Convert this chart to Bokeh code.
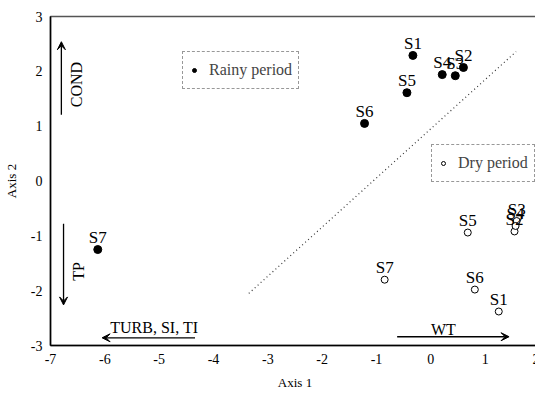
import math
from bokeh.plotting import figure
from bokeh.models import (Range1d, FixedTicker, ColumnDataSource, Arrow, VeeHead,
                          Legend, LegendItem, Label)
from bokeh.core.properties import value
from bokeh.embed import file_html
from bokeh.resources import INLINE

# ---- data ----
rainy_names = ["S1", "S2", "S3", "S4", "S5", "S6", "S7"]
rainy_x = [-0.33, 0.60, 0.45, 0.21, -0.44, -1.22, -6.13]
rainy_y = [2.29, 2.07, 1.92, 1.94, 1.61, 1.05, -1.25]

dry_names = ["S1", "S2", "S3", "S4", "S5", "S6", "S7"]
dry_x = [1.25, 1.54, 1.58, 1.56, 0.68, 0.81, -0.85]
dry_y = [-2.38, -0.92, -0.73, -0.82, -0.94, -1.98, -1.80]

x_ticks = [-7, -6, -5, -4, -3, -2, -1, 0, 1, 2]
y_ticks = [-3, -2, -1, 0, 1, 2, 3]

# separating line (dotted)
sep_x = [-3.35, 1.57]
sep_y = [-2.05, 2.36]

# variable vectors: name, start x, start y, end x, end y
vec_names = ["COND", "TP", "TURB, SI, TI", "WT"]
vec_x0 = [-6.80, -6.76, -4.34, -0.62]
vec_y0 = [1.21, -0.78, -2.86, -2.84]
vec_x1 = [-6.80, -6.76, -6.05, 1.44]
vec_y1 = [2.54, -2.26, -2.86, -2.84]
vec_lab_x = [-6.52, -6.48, -5.90, 0.23]
vec_lab_y = [1.76, -1.65, -2.68, -2.71]
vec_lab_angle = [math.pi / 2, math.pi / 2, 0.0, 0.0]
vec_lab_align = ["center", "center", "left", "center"]

SERIF = "Liberation Serif"

p = figure(frame_width=489, frame_height=329, output_backend="svg", toolbar_location=None,
           x_range=Range1d(-7, 2), y_range=Range1d(-3, 3),
           min_border_left=46, min_border_right=0, min_border_top=16,
           min_border_bottom=30)
p.background_fill_color = "white"
p.border_fill_color = "white"
p.outline_line_color = "#555555"
p.outline_line_width = 1.5
p.xgrid.visible = False
p.ygrid.visible = False

for ax, ticks, title in ((p.xaxis[0], x_ticks, "Axis 1"), (p.yaxis[0], y_ticks, "Axis 2")):
    ax.ticker = FixedTicker(ticks=ticks)
    ax.major_label_overrides = {t: str(t) for t in ticks}
    ax.axis_label = title
    ax.axis_label_text_font = SERIF
    ax.axis_label_text_font_size = "13px"
    ax.axis_label_text_font_style = "normal"
    ax.axis_label_text_color = "black"
    ax.major_label_text_font = SERIF
    ax.major_label_text_font_size = "14px"
    ax.major_label_text_color = "black"
    ax.major_tick_line_color = None
    ax.minor_tick_line_color = None
    ax.major_tick_out = 0
    ax.major_tick_in = 0
    ax.minor_tick_out = 0
    ax.minor_tick_in = 0
    ax.axis_line_color = "black"
    ax.axis_line_width = 1.5
p.xaxis[0].major_label_standoff = 8
p.xaxis[0].axis_label_standoff = 8
p.yaxis[0].major_label_standoff = 8
p.yaxis[0].axis_label_standoff = 9

# separating dotted line
p.line(sep_x, sep_y, line_color="#333333", line_width=1.2, line_dash="1 3")

# points
rs = ColumnDataSource(dict(x=rainy_x, y=rainy_y, n=rainy_names))
ds = ColumnDataSource(dict(x=dry_x, y=dry_y, n=dry_names))
r_rainy = p.scatter("x", "y", source=rs, size=8, marker="circle",
                    fill_color="black", line_color="black")
r_dry = p.scatter("x", "y", source=ds, size=7, marker="circle",
                  fill_color="white", line_color="black", line_width=1)
for src in (rs, ds):
    p.text("x", "y", text="n", source=src, text_font=value(SERIF),
           text_font_size="17px", text_align="center",
           text_baseline="alphabetic", y_offset=-12, text_color="black")

# variable vectors
for x0, y0, x1, y1 in zip(vec_x0, vec_y0, vec_x1, vec_y1):
    p.add_layout(Arrow(x_start=x0, y_start=y0, x_end=x1, y_end=y1,
                       line_color="black", line_width=1.3,
                       end=VeeHead(size=8, fill_color="black", line_color="black")))
for name, lx, ly, ang, al in zip(vec_names, vec_lab_x, vec_lab_y, vec_lab_angle, vec_lab_align):
    p.add_layout(Label(x=lx, y=ly, text=name, angle=ang, text_align=al,
                       text_baseline="middle", text_font=SERIF,
                       text_font_size="16px", text_color="black"))

# legends (two boxed, dotted borders)
def make_legend(label, rend, loc):
    lg = Legend(items=[LegendItem(label=label, renderers=[rend])], location=loc,
                label_text_font=SERIF, label_text_font_size="16px",
                glyph_width=10, glyph_height=24, label_height=24,
                label_standoff=10, padding=6, margin=0, spacing=0,
                border_line_color="#333333", border_line_dash="1 2",
                border_line_width=1.2, background_fill_alpha=1.0)
    p.add_layout(lg, "center")

make_legend("Rainy period", r_rainy, (132, 256))
make_legend("Dry period", r_dry, (381, 163))

open("out.html", "w").write(file_html(p, INLINE))
